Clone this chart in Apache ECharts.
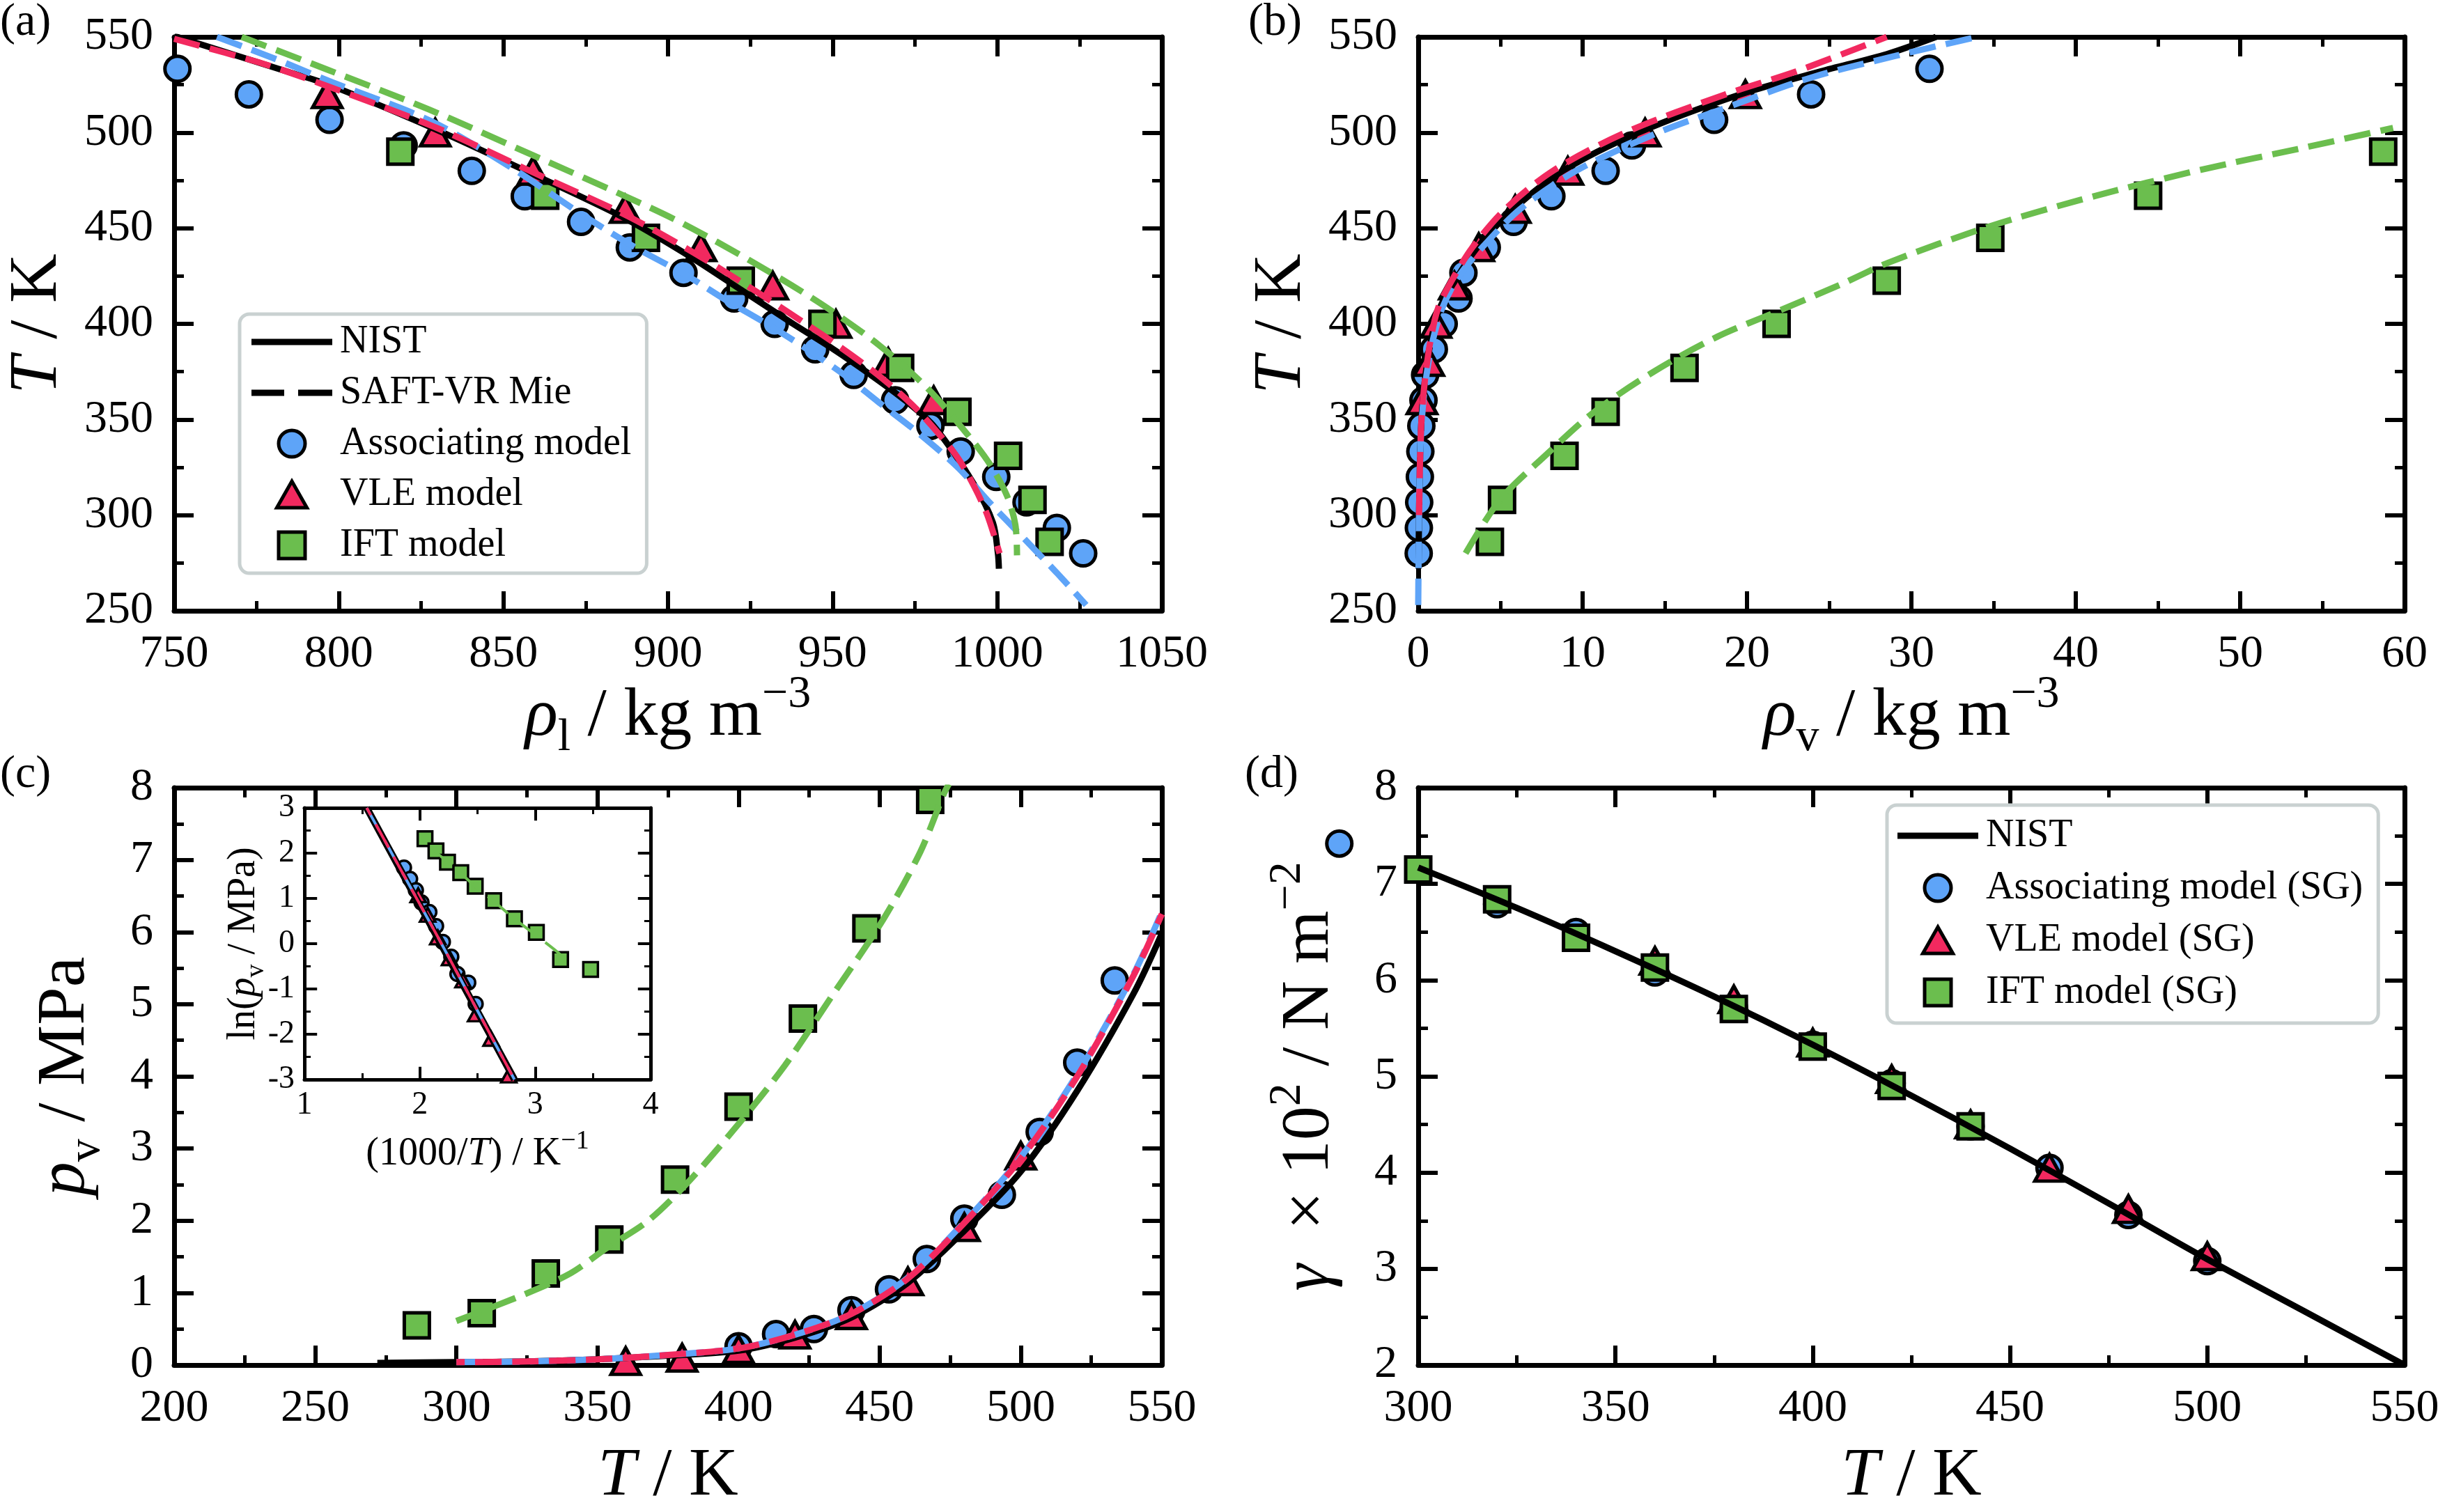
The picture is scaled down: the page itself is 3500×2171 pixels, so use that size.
<!DOCTYPE html>
<html>
<head>
<meta charset="utf-8">
<script src="https://cdn.jsdelivr.net/npm/echarts@6/dist/echarts.min.js"></script>
<style>
html, body { margin: 0; padding: 0; background: #fff; }
#chart { width: 3500px; height: 2171px; }
</style>
</head>
<body>
<div id="chart"></div>
<script>
// ---------- values ----------
// simulation points, shared temperatures
const assocT = [533.3, 520, 506.7, 493.3, 480, 466.7, 453.3, 440, 426.7, 413.3, 400, 386.7, 373.3, 360, 346.7, 333.3, 320, 306.7, 293.3, 280];
const assocRhoL = [751, 772.7, 797.2, 819.7, 840.4, 856.5, 873.6, 888.4, 904.7, 920.1, 932.4, 944.7, 956.4, 969, 979.7, 988.9, 999.7, 1008.9, 1018.1, 1026.1];
const assocRhoV = [31.1, 23.9, 18.0, 13.0, 11.4, 8.1, 5.8, 4.17, 2.75, 2.45, 1.55, 0.95, 0.42, 0.32, 0.19, 0.13, 0.1, 0.06, 0.04, 0.03];
const assocPT = [533.3, 520, 506.7, 493.3, 480, 466.7, 453.3, 440, 426.7, 413.3, 400];
const assocP = [5.33, 4.19, 3.23, 2.36, 2.03, 1.47, 1.05, 0.76, 0.5, 0.43, 0.26];

const vleT = [520, 500, 480, 460, 440, 420, 400, 380, 360];
const vleRhoL = [796.5, 829.3, 859, 887, 910, 931.8, 951, 966.9, 980.7];
const vleRhoV = [19.9, 13.8, 9.1, 5.9, 3.68, 2.2, 1.08, 0.64, 0.23];
const vlePT = [500, 480, 460, 440, 420, 400, 380, 360];
const vleP = [2.9, 1.91, 1.16, 0.69, 0.42, 0.22, 0.1, 0.055];

const iftT = [490, 467, 445, 422.6, 400, 377, 354, 331, 308, 286];
const iftRhoL = [818.7, 862.7, 893.3, 922.1, 946.9, 970.5, 987.9, 1003.3, 1010.7, 1015.9];
const iftRhoV = [58.7, 44.4, 34.8, 28.5, 21.8, 16.2, 11.4, 8.9, 5.1, 4.36];
const iftPT = [286, 309, 331.7, 354.2, 377.5, 400, 422.8, 445.3, 467.9];
const iftP = [0.55, 0.72, 1.27, 1.74, 2.57, 3.58, 4.8, 6.05, 7.83];

// (a) curves: liquid density vs T
const aNistRho = [750, 786, 797, 829, 858, 886, 905, 922, 938, 950, 961, 972, 981, 993, 998.7, 1000.2, 1000.5];
const aNistT = [550.5, 531, 525, 502, 479, 456, 437, 418, 400, 387, 374, 360, 346, 316, 296, 280, 272];
const aVleRho = [750, 777, 797, 829, 858, 887, 906, 924, 941, 953, 964, 974, 982, 988, 993, 997, 1000.7];
const aVleT = [549, 536, 524, 503, 480, 457, 439, 420, 401, 387, 373, 358, 343, 330, 315, 300, 280];
const aAssocRho = [763, 780, 797, 828, 853, 874, 890, 905, 918, 931, 942, 953, 964, 976, 988, 998, 1008, 1018, 1027];
const aAssocT = [550, 539, 527, 506, 481, 457, 440, 426, 412, 399, 387, 374, 359, 343, 325, 306, 288, 270, 253];
const aIftRho = [770.5, 796.4, 827.5, 858.5, 889.6, 905, 925, 946, 964, 979, 992, 998, 1003, 1005.5, 1006];
const aIftT = [550, 533, 512, 488.5, 464.7, 452, 433, 411, 389, 366, 340, 326, 310, 295, 279];

// (b) curves: vapour density vs T
const bNistRho = [0.02, 0.05, 0.1, 0.2, 0.4, 0.75, 1.3, 2.2, 3.6, 5.8, 8.8, 13.4, 19.6, 24.5, 28.5, 31.5];
const bNistT = [272, 300, 325, 350, 370, 390, 408, 422, 440, 460, 480, 500, 520, 532, 541, 550];
const bVleRho = [0.05, 0.1, 0.2, 0.4, 0.72, 1.2, 2.0, 3.3, 5.3, 8.2, 12.6, 18.7, 23, 28.5];
const bVleT = [300, 325, 350, 370, 390, 408, 422, 440, 460, 480, 500, 520, 532, 550];
const bAssocRho = [0, 0.02, 0.05, 0.1, 0.22, 0.45, 0.85, 1.45, 2.4, 3.9, 6.2, 9.6, 14.6, 18.4, 24, 29, 34];
const bAssocT = [253, 275, 300, 325, 350, 370, 390, 408, 424, 440, 460, 480, 500, 512, 529, 540, 550];
const bIftRho = [2.88, 4.97, 7.8, 10.65, 14.4, 18.2, 22, 25.8, 28.6, 34.7, 41.1, 47.6, 54.1, 59.3];
const bIftT = [280, 308, 331.7, 353.6, 375.4, 393.3, 407, 421, 432, 450.8, 466.7, 480.5, 492.5, 502.4];

// (c) vapour pressure curves
const cNistT = [272, 300, 325, 350, 375, 400, 420, 440, 460, 480, 500, 520, 540, 550];
const cNistP = [0.03, 0.04, 0.05, 0.08, 0.13, 0.2, 0.38, 0.66, 1.14, 1.86, 2.68, 3.8, 5.15, 5.98];
const cModelT = [300, 325, 350, 375, 400, 420, 440, 460, 480, 500, 520, 540, 550];
const cVleP = [0.04, 0.05, 0.08, 0.14, 0.23, 0.42, 0.71, 1.2, 1.97, 2.86, 4.0, 5.4, 6.25];
const cAssocP = [0.04, 0.05, 0.08, 0.14, 0.23, 0.42, 0.71, 1.21, 1.98, 2.88, 4.03, 5.42, 6.28];
const cIftT = [300, 323.5, 340.4, 353.6, 368, 382.5, 400.2, 416.4, 433.2, 451.2, 464.4, 472.8, 474.5];
const cIftP = [0.61, 0.97, 1.27, 1.63, 2.0, 2.55, 3.35, 4.15, 5.12, 6.17, 7.11, 7.92, 8.05];

// (c) inset: ln(p) vs 1000/T
const inAssocX = [1.863, 1.916, 1.966, 2.015, 2.083, 2.141, 2.2, 2.273, 2.326, 2.42, 2.484];
const inAssocY = [1.68, 1.43, 1.18, 0.91, 0.70, 0.39, 0.04, -0.29, -0.67, -0.86, -1.33];
const inVleX = [1.986, 2.068, 2.156, 2.258, 2.375, 2.484, 2.618, 2.771];
const inVleY = [1.07, 0.64, 0.14, -0.32, -0.81, -1.56, -2.1, -2.91];
const inIftX = [2.045, 2.14, 2.24, 2.355, 2.48, 2.64, 2.82, 3.01, 3.22, 3.48];
const inIftY = [2.32, 2.05, 1.8, 1.57, 1.27, 0.95, 0.55, 0.25, -0.35, -0.57];
const inLineX = [1.54, 1.86, 2.156, 2.5, 2.82];
const inNistY = [3.0, 1.5, 0.12, -1.5, -3.0];
const inModelY = [3.0, 1.52, 0.15, -1.48, -3.0];
const inIftLineX = [2.1, 2.3, 2.5, 2.65, 2.82, 3.0, 3.2, 3.33];
const inIftLineY = [2.1, 1.68, 1.22, 0.92, 0.55, 0.2, -0.2, -0.5];

// (d) surface tension
const dNistT = [300, 325, 350, 375, 400, 425, 450, 475, 500, 525, 550];
const dNistG = [7.17, 6.75, 6.3, 5.83, 5.33, 4.8, 4.25, 3.68, 3.1, 2.55, 2.0];
const dAssocT = [280, 320, 340, 360, 380, 400, 420, 440, 460, 480, 500];
const dAssocG = [7.42, 6.79, 6.5, 6.08, 5.72, 5.33, 4.93, 4.48, 4.05, 3.56, 3.08];
const dVleT = [360, 380, 400, 420, 440, 460, 480, 500];
const dVleG = [6.2, 5.8, 5.35, 4.97, 4.5, 4.05, 3.62, 3.13];
const dIftT = [300, 320, 340, 360, 380, 400, 420, 440];
const dIftG = [7.15, 6.84, 6.44, 6.13, 5.70, 5.31, 4.90, 4.48];

// ---------- styling ----------
const F = 'Liberation Serif';
const BLUE = '#5ea4f8';
const RED = '#f2295f';
const GREEN = '#6bbe4e';
const DASH = [38, 15];

const zip = (xs, ys) => xs.map((x, i) => [x, ys[i]]);

const rich = {
  n: { fontFamily: F, fontSize: 98, lineHeight: 128, color: '#000' },
  i: { fontFamily: F, fontSize: 98, lineHeight: 128, fontStyle: 'italic', color: '#000' },
  sb: { fontFamily: F, fontSize: 66, lineHeight: 86, verticalAlign: 'bottom', color: '#000' },
  sp: { fontFamily: F, fontSize: 66, lineHeight: 66, verticalAlign: 'top', color: '#000' },
  m: { fontFamily: F, fontSize: 56, lineHeight: 74, color: '#000' },
  mi: { fontFamily: F, fontSize: 56, lineHeight: 74, fontStyle: 'italic', color: '#000' },
  msb: { fontFamily: F, fontSize: 38, lineHeight: 50, verticalAlign: 'bottom', color: '#000' },
  msp: { fontFamily: F, fontSize: 38, lineHeight: 38, verticalAlign: 'top', color: '#000' }
};

function axis(pos, grid, min, max, step, extra, small) {
  const s = small ? 0.65 : 1;
  return Object.assign({
    type: 'value', gridIndex: grid, position: pos, min: min, max: max, interval: step,
    axisLine: { show: true, onZero: false, lineStyle: { color: '#000', width: small ? 5 : 7 } },
    axisTick: { show: true, inside: true, length: 28 * s, lineStyle: { color: '#000', width: small ? 4 : 6 } },
    minorTick: { show: true, splitNumber: 2, length: 14 * s, lineStyle: { color: '#000', width: small ? 3 : 5 } },
    splitLine: { show: false },
    minorSplitLine: { show: false },
    axisLabel: {
      show: pos === 'bottom' || pos === 'left', color: '#000', fontFamily: F,
      fontSize: small ? 46 : 66, margin: small ? 14 : 30, showMinLabel: true, showMaxLabel: true,
      formatter: v => String(v)
    },
    nameLocation: 'middle',
    nameMoveOverlap: false,
    nameTextStyle: { rich: rich }
  }, extra || {});
}

const grids = [
  { left: 250, top: 53, width: 1418, height: 824 },
  { left: 2036, top: 53, width: 1416, height: 824 },
  { left: 250, top: 1131, width: 1418, height: 829 },
  { left: 2036, top: 1131, width: 1416, height: 829 },
  { left: 437, top: 1160, width: 497, height: 390 }
].map(g => Object.assign({ outerBoundsMode: 'none', containLabel: false }, g));

const xAxes = [
  axis('bottom', 0, 750, 1050, 50, { name: '{i|ρ}{sb|l}{n| / kg m}{sp|−3}', nameGap: 88 }),
  axis('top', 0, 750, 1050, 50),
  axis('bottom', 1, 0, 60, 10, { name: '{i|ρ}{sb|v}{n| / kg m}{sp|−3}', nameGap: 88 }),
  axis('top', 1, 0, 60, 10),
  axis('bottom', 2, 200, 550, 50, { name: '{i|T}{n| / K}', nameGap: 96 }),
  axis('top', 2, 200, 550, 50),
  axis('bottom', 3, 300, 550, 50, { name: '{i|T}{n| / K}', nameGap: 96 }),
  axis('top', 3, 300, 550, 50),
  axis('bottom', 4, 1, 4, 1, { name: '{m|(1000/}{mi|T}{m|) / K}{msp|−1}', nameGap: 70 }, true),
  axis('top', 4, 1, 4, 1, null, true)
];
const yAxes = [
  axis('left', 0, 250, 550, 50, { name: '{i|T}{n| / K}', nameGap: 132 }),
  axis('right', 0, 250, 550, 50),
  axis('left', 1, 250, 550, 50, { name: '{i|T}{n| / K}', nameGap: 132 }),
  axis('right', 1, 250, 550, 50),
  axis('left', 2, 0, 8, 1, { name: '{i|p}{sb|v}{n| / MPa}', nameGap: 92 }),
  axis('right', 2, 0, 8, 1),
  axis('left', 3, 2, 8, 1, { name: '{i|γ}{n|  × 10}{sp|2}{n| / N m}{sp|−2}', nameGap: 92 }),
  axis('right', 3, 2, 8, 1),
  axis('left', 4, -3, 3, 1, { name: '{m|ln(}{mi|p}{msb|v}{m| / MPa)}', nameGap: 50 }, true),
  axis('right', 4, -3, 3, 1, null, true)
];

function curve(name, g, data, color, dashed, width) {
  return {
    type: 'line', name: name, xAxisIndex: 2 * g, yAxisIndex: 2 * g, data: data,
    showSymbol: false, symbol: 'none', smooth: 0.3, clip: true, silent: true,
    itemStyle: { color: color },
    lineStyle: { color: color, width: width || 9, type: dashed ? DASH : 'solid', cap: 'butt' }
  };
}
function marks(name, g, data, kind, small) {
  const spec = {
    circle: ['circle', BLUE, small ? 20 : 36],
    triangle: ['triangle', RED, small ? [22, 20] : [42, 38]],
    rect: ['rect', GREEN, small ? 21 : 36]
  }[kind];
  return {
    type: 'scatter', name: name, xAxisIndex: 2 * g, yAxisIndex: 2 * g, data: data,
    symbol: spec[0], symbolSize: spec[2], clip: false, silent: true,
    itemStyle: { color: spec[1], borderColor: '#000', borderWidth: small ? 3.5 : 5, opacity: 1 }
  };
}

const series = [
  // legend-only entry for the dashed model curves
  { type: 'line', name: 'SAFT-VR Mie', xAxisIndex: 0, yAxisIndex: 0, data: [], symbol: 'none',
    itemStyle: { color: '#000' }, lineStyle: { color: '#000', width: 9, type: DASH } },

  // (a)
  curve('NIST', 0, zip(aNistRho, aNistT), '#000'),
  curve('a-assoc', 0, zip(aAssocRho, aAssocT), BLUE, true),
  curve('a-vle', 0, zip(aVleRho, aVleT), RED, true),
  curve('a-ift', 0, zip(aIftRho, aIftT), GREEN, true),
  marks('Associating model', 0, zip(assocRhoL, assocT), 'circle'),
  marks('VLE model', 0, zip(vleRhoL, vleT), 'triangle'),
  marks('IFT model', 0, zip(iftRhoL, iftT), 'rect'),

  // (b)
  curve('NIST', 1, zip(bNistRho, bNistT), '#000'),
  curve('b-assoc', 1, zip(bAssocRho, bAssocT), BLUE, true),
  curve('b-vle', 1, zip(bVleRho, bVleT), RED, true),
  curve('b-ift', 1, zip(bIftRho, bIftT), GREEN, true),
  marks('Associating model', 1, zip(assocRhoV, assocT), 'circle'),
  marks('VLE model', 1, zip(vleRhoV, vleT), 'triangle'),
  marks('IFT model', 1, zip(iftRhoV, iftT), 'rect'),

  // (c)
  curve('NIST', 2, zip(cNistT, cNistP), '#000'),
  curve('c-assoc', 2, zip(cModelT, cAssocP), BLUE, true),
  curve('c-vle', 2, zip(cModelT, cVleP), RED, true),
  curve('c-ift', 2, zip(cIftT, cIftP), GREEN, true),
  marks('Associating model', 2, zip(assocPT, assocP), 'circle'),
  marks('VLE model', 2, zip(vlePT, vleP), 'triangle'),
  marks('IFT model', 2, zip(iftPT, iftP), 'rect'),

  // (c) inset
  curve('NIST', 4, zip(inLineX, inNistY), '#000', false, 10),
  curve('in-assoc', 4, zip(inLineX, inModelY), BLUE, true, 4),
  curve('in-vle', 4, zip(inLineX, inModelY), RED, true, 4),
  curve('in-ift', 4, zip(inIftLineX, inIftLineY), GREEN, true, 4),
  marks('Associating model', 4, zip(inAssocX, inAssocY), 'circle', true),
  marks('VLE model', 4, zip(inVleX, inVleY), 'triangle', true),
  marks('IFT model', 4, zip(inIftX, inIftY), 'rect', true),

  // (d)
  curve('NIST', 3, zip(dNistT, dNistG), '#000'),
  marks('Associating model (SG)', 3, zip(dAssocT, dAssocG), 'circle'),
  marks('VLE model (SG)', 3, zip(dVleT, dVleG), 'triangle'),
  marks('IFT model (SG)', 3, zip(dIftT, dIftG), 'rect')
];
// red and blue dashes alternate where the two model curves coincide
series.forEach(s => {
  if (s.name === 'c-vle' || s.name === 'in-vle') s.lineStyle.dashOffset = 26;
});

// legend icons
const ICON_SOLID = 'path://M0,0H116V9H0Z';
const ICON_DASH = 'path://M0,0H47V9H0ZM67,0H116V9H67Z';
const ICON_TRI = 'path://M50,0L100,88L0,88Z';
const ICON_SQ = 'path://M0,0H100V100H0Z';
const markStyle = c => ({ color: c, borderColor: '#000', borderWidth: 5 });
const legendItems = (suffix, withDash) => [
  { name: 'NIST', icon: ICON_SOLID, itemStyle: { color: '#000', borderWidth: 0 } }
].concat(withDash ? [{ name: 'SAFT-VR Mie', icon: ICON_DASH, itemStyle: { color: '#000', borderWidth: 0 } }] : [])
 .concat([
  { name: 'Associating model' + suffix, icon: 'circle', itemStyle: markStyle(BLUE) },
  { name: 'VLE model' + suffix, icon: ICON_TRI, itemStyle: markStyle(RED) },
  { name: 'IFT model' + suffix, icon: ICON_SQ, itemStyle: markStyle(GREEN) }
]);

const legendBase = {
  orient: 'vertical', itemWidth: 116, itemHeight: 38, selectedMode: false, symbolKeepAspect: true,
  backgroundColor: '#fff', borderColor: '#c9d1d1', borderWidth: 5, borderRadius: 14,
  textStyle: { fontFamily: F, fontSize: 56, color: '#000', padding: [0, 0, 0, 6] }
};

const option = {
  animation: false,
  backgroundColor: '#fff',
  grid: grids,
  xAxis: xAxes,
  yAxis: yAxes,
  legend: [
    Object.assign({}, legendBase, {
      left: 344, top: 451, itemGap: 17, padding: [12, 22, 12, 17],
      data: legendItems('', true)
    }),
    Object.assign({}, legendBase, {
      left: 2709, top: 1156, itemGap: 19, padding: [16, 22, 16, 15],
      data: legendItems(' (SG)', false)
    })
  ],
  graphic: [
    { type: 'text', left: 0, top: 0, style: { text: '(a)', font: '66px "Liberation Serif"', fill: '#000' } },
    { type: 'text', left: 1792, top: 0, style: { text: '(b)', font: '66px "Liberation Serif"', fill: '#000' } },
    { type: 'text', left: 0, top: 1080, style: { text: '(c)', font: '66px "Liberation Serif"', fill: '#000' } },
    { type: 'text', left: 1787, top: 1080, style: { text: '(d)', font: '66px "Liberation Serif"', fill: '#000' } }
  ],
  series: series
};

const chart = echarts.init(document.getElementById('chart'));
chart.setOption(option);
</script>
</body>
</html>
